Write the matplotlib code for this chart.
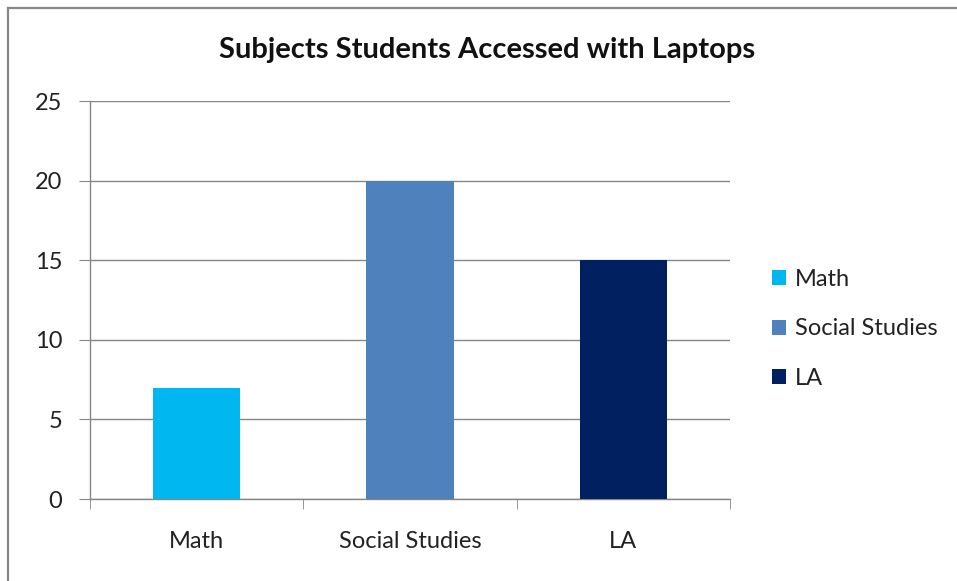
import numpy as np
import matplotlib.pyplot as plt
from matplotlib.patches import Patch
from matplotlib.lines import Line2D

CATEGORIES = ["Math", "Social Studies", "LA"]
VALUES = [7, 20, 15]
COLORS = ["#00B7F0", "#4F81BD", "#002060"]
Y_TICKS = [0, 5, 10, 15, 20, 25]

W, H = 957, 581
GRID = "#868686"

plt.rcParams["font.family"] = ["Lato", "DejaVu Sans"]


def main():
    fig = plt.figure(figsize=(W / 100, H / 100), dpi=100)
    ax = fig.add_axes([90 / W, 1 - 499 / H, 640 / W, 398 / H])

    x = np.arange(len(CATEGORIES))
    ax.bar(x, VALUES, width=0.41, color=COLORS, zorder=3)

    ax.set_xlim(-0.5, len(CATEGORIES) - 0.5)
    ax.set_ylim(0, 25)
    ax.set_yticks(Y_TICKS)
    ax.set_yticklabels([str(t) for t in Y_TICKS], fontsize=17, color="#222222")
    ax.yaxis.grid(True, color=GRID, linewidth=1, zorder=0)

    # category labels centred, tick marks at category boundaries
    ax.set_xticks(x)
    ax.set_xticklabels(CATEGORIES, fontsize=17, color="#222222")
    ax.tick_params(axis="x", which="major", length=0, pad=23)
    ax.set_xticks(np.arange(-0.5, len(CATEGORIES)), minor=True)
    ax.tick_params(axis="x", which="minor", length=7, color=GRID, direction="out")
    ax.tick_params(axis="y", length=8, color=GRID, pad=12)

    for side in ["top", "right"]:
        ax.spines[side].set_visible(False)
    for side in ["left", "bottom"]:
        ax.spines[side].set_color(GRID)
        ax.spines[side].set_linewidth(1)

    fig.text(487 / W, 1 - 50 / H, "Subjects Students Accessed with Laptops",
             ha="center", va="center", fontsize=21, fontweight="bold",
             color="#111111")

    handles = [Patch(facecolor=c, edgecolor="none") for c in COLORS]
    fig.legend(handles, CATEGORIES, loc="center left",
               bbox_to_anchor=(751 / W, 1 - 329 / H), frameon=False,
               fontsize=17, handlelength=0.6, handleheight=0.6,
               handletextpad=0.35, labelspacing=1.2, labelcolor="#222222")

    # chart frame: only the top and left edges show
    fig.add_artist(Line2D([8 / W, 8 / W], [0, 1 - 8 / H], color="#888888",
                          linewidth=1.6, transform=fig.transFigure))
    fig.add_artist(Line2D([8 / W, 1], [1 - 8 / H, 1 - 8 / H], color="#888888",
                          linewidth=1.6, transform=fig.transFigure))

    fig.savefig("out.png", dpi=100)


if __name__ == "__main__":
    main()
